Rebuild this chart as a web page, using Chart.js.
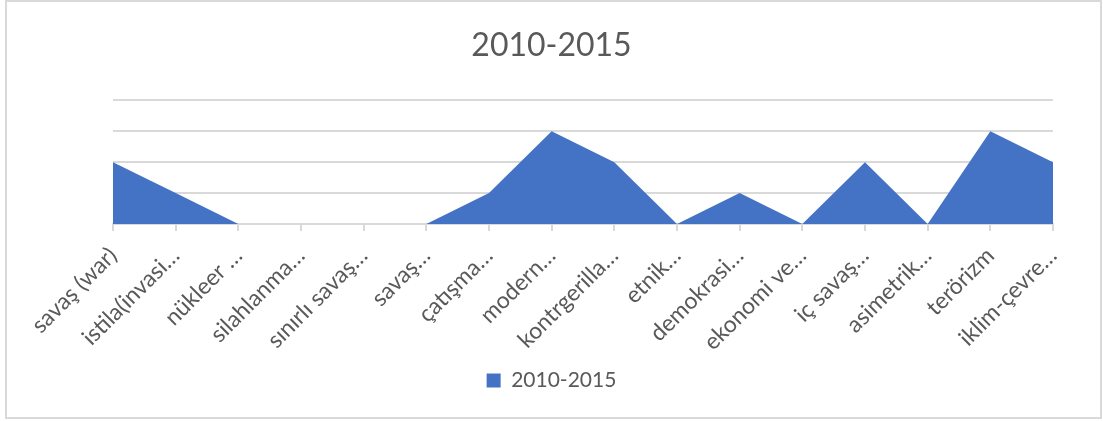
<!DOCTYPE html>
<html>
<head>
<meta charset="utf-8">
<script src="https://cdn.jsdelivr.net/npm/chart.js@4.4.0/dist/chart.umd.min.js"></script>
<style>
  html, body { margin: 0; padding: 0; background: #fff; }
  #wrap { position: relative; width: 1103px; height: 421px; }
</style>
</head>
<body>
<div id="wrap"><canvas id="c" width="1103" height="421"></canvas></div>
<script>
const categories = [
  "savaş (war)", "istila(invasi…", "nükleer …", "silahlanma…", "sınırlı savaş…",
  "savaş…", "çatışma…", "modern…", "kontrgerilla…", "etnik…",
  "demokrasi…", "ekonomi ve…", "iç savaş…", "asimetrik…", "terörizm", "iklim-çevre…"
];
const seriesName = "2010-2015";
const values2010_2015 = [2, 1, 0, 0, 0, 0, 1, 3, 2, 0, 1, 0, 2, 0, 3, 2];
const yMin = 0, yMax = 4, yStep = 1;

const FONT = "Lato, 'Open Sans', sans-serif";
const TEXT = "#595959";
const GRID = "#d9d9d9";

const frame = {
  id: 'frame',
  beforeDraw(chart) {
    const ctx = chart.ctx;
    ctx.save();
    ctx.fillStyle = '#fff';
    ctx.fillRect(0, 0, chart.width, chart.height);
    ctx.strokeStyle = GRID;
    ctx.lineWidth = 2;
    ctx.strokeRect(6, 1, 1095, 417);
    ctx.restore();
  }
};

new Chart(document.getElementById('c'), {
  type: 'line',
  data: {
    labels: categories,
    datasets: [{
      label: seriesName,
      data: values2010_2015,
      fill: 'origin',
      backgroundColor: '#4472C4',
      borderColor: '#4472C4',
      borderWidth: 0,
      pointRadius: 0,
      tension: 0
    }]
  },
  options: {
    responsive: false,
    animation: false,
    layout: { padding: { left: 0, right: 0, top: 0, bottom: 20 } },
    plugins: {
      title: {
        display: true,
        text: seriesName,
        color: TEXT,
        font: { family: FONT, size: 32, weight: 'normal' },
        padding: { top: 26, bottom: 36 }
      },
      legend: {
        display: true,
        position: 'bottom',
        labels: {
          color: TEXT,
          font: { family: FONT, size: 21 },
          boxWidth: 14,
          boxHeight: 14,
          padding: 9
        }
      },
      tooltip: { enabled: false }
    },
    scales: {
      x: {
        offset: false,
        afterFit(s) { s.height = 137; },
        grid: {
          display: true,
          drawOnChartArea: false,
          drawTicks: true,
          tickLength: 7,
          color: GRID,
          lineWidth: 2
        },
        border: { display: true, color: GRID, width: 2 },
        ticks: {
          autoSkip: false,
          maxRotation: 45,
          minRotation: 45,
          color: TEXT,
          font: { family: FONT, size: 23 },
          padding: 11
        }
      },
      y: {
        min: yMin,
        max: yMax,
        afterFit(s) { s.width = 113; },
        ticks: { display: false, stepSize: yStep },
        grid: { color: GRID, lineWidth: 2, drawTicks: false },
        border: { display: false }
      },
      yRight: {
        position: 'right',
        min: yMin,
        max: yMax,
        afterFit(s) { s.width = 50; },
        ticks: { display: false },
        grid: { display: false, drawTicks: false },
        border: { display: false }
      }
    }
  },
  plugins: [frame]
});
</script>
</body>
</html>
